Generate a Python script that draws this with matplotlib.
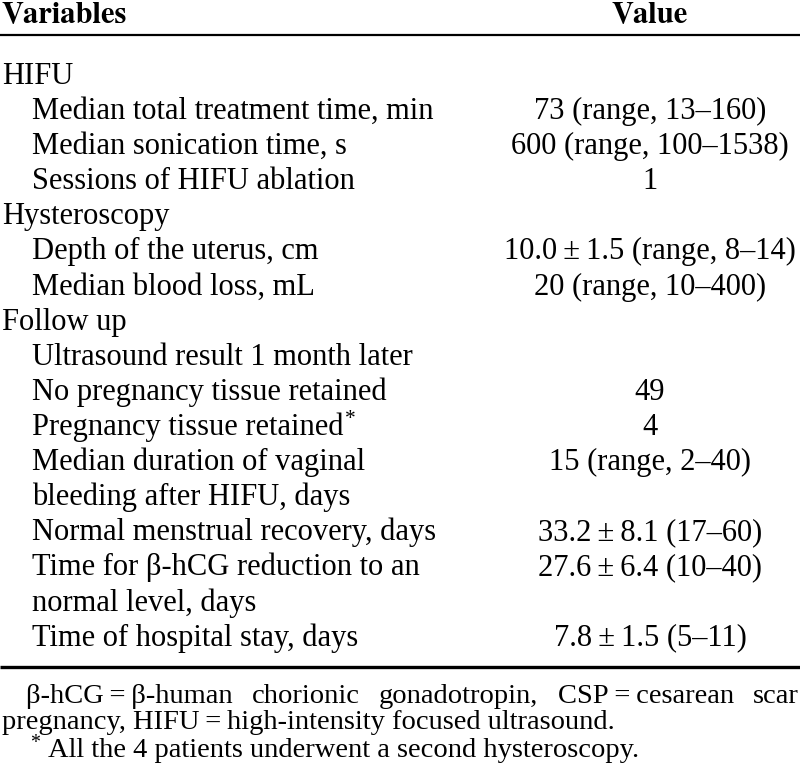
import matplotlib
matplotlib.use("Agg")
import matplotlib.pyplot as plt

plt.rcParams["font.family"] = ["Liberation Serif", "STIXGeneral", "DejaVu Serif"]
plt.rcParams["mathtext.fontset"] = "stix"

# table content
header = ["Variables", "Value"]
labels = [
    "HIFU",
    "Median total treatment time, min",
    "Median sonication time, s",
    "Sessions of HIFU ablation",
    "Hysteroscopy",
    "Depth of the uterus, cm",
    "Median blood loss, mL",
    "Follow up",
    "Ultrasound result 1 month later",
    "No pregnancy tissue retained",
    "Pregnancy tissue retained",
    "Median duration of vaginal",
    "bleeding after HIFU, days",
    "Normal menstrual recovery, days",
    "Time for \u03b2-hCG reduction to an",
    "normal level, days",
    "Time of hospital stay, days",
]
indent = [0, 1, 1, 1, 0, 1, 1, 0, 1, 1, 1, 1, 1, 1, 1, 1, 1]
starred = [False] * 10 + [True] + [False] * 6
values = [
    "",
    "73 (range, 13\u2013160)",
    "600 (range, 100\u20131538)",
    "1",
    "",
    "10.0\u2009\u00b1\u20091.5 (range, 8\u201314)",
    "20 (range, 10\u2013400)",
    "",
    "",
    "49",
    "4",
    "15 (range, 2\u201340)",
    "",
    "33.2\u2009\u00b1\u20098.1 (17\u201360)",
    "27.6\u2009\u00b1\u20096.4 (10\u201340)",
    "",
    "7.8\u2009\u00b1\u20091.5 (5\u201311)",
]
foot1 = "\u03b2-hCG\u2009=\u2009\u03b2-human chorionic gonadotropin, CSP\u2009=\u2009cesarean scar"
foot2 = "pregnancy, HIFU\u2009=\u2009high-intensity focused ultrasound."
foot3 = "All the 4 patients underwent a second hysteroscopy."

W, H = 800, 776
fig = plt.figure(figsize=(W / 100, H / 100), dpi=100)
ax = fig.add_axes([0, 0, 1, 1])
ax.set_xlim(0, W)
ax.set_ylim(H, 0)
ax.axis("off")

fs = 22
ffs = 20.5
val_x = 650
row0 = 84
step = 35.1

ax.text(2, 22, header[0], fontsize=fs, fontweight="bold", family="STIXGeneral", va="baseline")
ax.text(val_x, 22, header[1], fontsize=fs, fontweight="bold", family="STIXGeneral",
        va="baseline", ha="center")
ax.plot([0, W], [34.5, 34.5], color="black", lw=1.6, solid_capstyle="butt")

fig.canvas.draw()
renderer = fig.canvas.get_renderer()

for i, (lab, ind, val, st) in enumerate(zip(labels, indent, values, starred)):
    y = row0 + i * step
    t = ax.text(2 + 30 * ind, y, lab, fontsize=fs, va="baseline")
    if st:
        bb = t.get_window_extent(renderer)
        ax.text(bb.x1 + 1, y - 11, "*", fontsize=fs * 0.7, va="baseline")
    if val:
        ax.text(val_x, y, val, fontsize=fs, va="baseline", ha="center")

bottom_rule = 667
ax.plot([0, W], [bottom_rule, bottom_rule], color="black", lw=2.4, solid_capstyle="butt")

# justified first footnote line
words = foot1.split(" ")
x0, x1 = 26, 799
tmp = [ax.text(0, 0, w, fontsize=ffs) for w in words]
widths = [t.get_window_extent(renderer).width for t in tmp]
for t in tmp:
    t.remove()
gap = (x1 - x0 - sum(widths)) / (len(words) - 1)
x = x0
for w, wd in zip(words, widths):
    ax.text(x, 703, w, fontsize=ffs, va="baseline")
    x += wd + gap

ax.text(2, 729, foot2, fontsize=ffs, va="baseline")
ax.text(30, 748, "*", fontsize=ffs * 0.7, va="baseline")
ax.text(48, 757, foot3, fontsize=ffs, va="baseline")

fig.savefig("out.png", dpi=100)
